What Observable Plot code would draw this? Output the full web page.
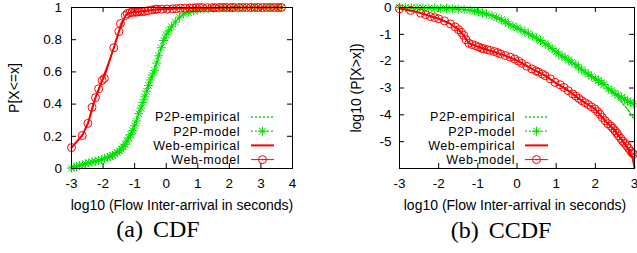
<!DOCTYPE html>
<html><head><meta charset="utf-8">
<script src="https://cdn.jsdelivr.net/npm/d3@7"></script>
<script src="https://cdn.jsdelivr.net/npm/@observablehq/plot@0.6"></script>
<style>
html,body{margin:0;padding:0;background:#fff;overflow:hidden}
#wrap{position:relative;width:637px;height:253px;background:#fff;overflow:hidden}
#wrap > svg{position:absolute;top:0;margin:0}
</style></head><body><div id="wrap"></div>
<script>
// ---------- tick labels / text ----------
const cdfXTicks = [-3, -2, -1, 0, 1, 2, 3, 4];
const cdfYTicks = [0, 0.2, 0.4, 0.6, 0.8, 1];
const ccdfXTicks = [-3, -2, -1, 0, 1, 2, 3];
const ccdfYTicks = [0, -1, -2, -3, -4, -5];
const xLabel = "log10 (Flow Inter-arrival in seconds)";
const cdfYLabel = "P[X<=x]";
const ccdfYLabel = "log10 (P[X>x])";
const seriesNames = ["P2P-empirical", "P2P-model", "Web-empirical", "Web-model"];
const captions = ["(a) CDF", "(b) CCDF"];

// ---------- (a) CDF ----------
const cdfP2PEmpX = [-3.0, -2.56, -2.14, -1.82, -1.5, -1.24, -1.03, -0.87, -0.71, -0.5, -0.37, -0.24, -0.08, 0.03, 0.29, 0.55, 0.87, 1.19, 1.5, 2.0, 3.0, 3.65];
const cdfP2PEmpY = [0.003, 0.03, 0.05, 0.07, 0.11, 0.17, 0.26, 0.34, 0.42, 0.55, 0.61, 0.70, 0.795, 0.84, 0.91, 0.96, 0.98, 0.99, 0.995, 1, 1, 1];
const cdfP2PModX = [-3.0, -2.92, -2.84, -2.75, -2.66, -2.56, -2.45, -2.35, -2.25, -2.14, -2.04, -1.95, -1.86, -1.78, -1.7, -1.62, -1.55, -1.48, -1.42, -1.36, -1.3, -1.24, -1.18, -1.12, -1.06, -1.0, -0.94, -0.87, -0.8, -0.74, -0.68, -0.62, -0.56, -0.5, -0.44, -0.37, -0.3, -0.24, -0.16, -0.08, 0.0, 0.08, 0.17, 0.29, 0.42, 0.55, 0.7, 0.87, 1.0, 1.19, 1.35, 1.5, 1.7, 1.9, 2.1, 2.3, 2.5, 2.7, 2.9, 3.1, 3.3, 3.5, 3.65];
const cdfP2PModY = [0.003, 0.008, 0.012, 0.018, 0.023, 0.03, 0.035, 0.04, 0.045, 0.05, 0.056, 0.062, 0.068, 0.074, 0.082, 0.09, 0.1, 0.11, 0.12, 0.135, 0.15, 0.17, 0.19, 0.21, 0.235, 0.265, 0.295, 0.34, 0.375, 0.41, 0.445, 0.48, 0.515, 0.55, 0.58, 0.61, 0.655, 0.70, 0.75, 0.795, 0.83, 0.855, 0.88, 0.91, 0.94, 0.96, 0.97, 0.98, 0.985, 0.99, 0.993, 0.995, 0.997, 0.998, 0.999, 1, 1, 1, 1, 1, 1, 1, 1];
const cdfWebEmpX = [-3.0, -2.66, -2.48, -2.24, -2.03, -1.85, -1.66, -1.5, -1.4, -1.29, -1.2, -1.0, -0.7, -0.3, 0.0, 0.5, 1.0, 1.5, 2.0, 3.0, 3.65];
const cdfWebEmpY = [0.13, 0.205, 0.28, 0.44, 0.547, 0.64, 0.75, 0.85, 0.9, 0.95, 0.964, 0.972, 0.978, 0.988, 0.99, 0.995, 0.997, 0.998, 1, 1, 1];
const cdfWebModX = [-3.0, -2.66, -2.48, -2.35, -2.24, -2.14, -2.03, -1.96, -1.66, -1.5, -1.45, -1.29, -1.23, -1.15, -1.08, -0.99, -0.92, -0.84, -0.76, -0.68, -0.58, -0.45, -0.35, -0.29, -0.15, 0.03, 0.2, 0.32, 0.45, 0.6, 0.75, 0.85, 0.95, 1.05, 1.15, 1.3, 1.45, 1.55, 1.68, 1.8, 1.92, 2.05, 2.15, 2.3, 2.42, 2.55, 2.68, 2.8, 2.92, 3.05, 3.18, 3.3, 3.42, 3.55, 3.65];
const cdfWebModY = [0.13, 0.205, 0.28, 0.38, 0.44, 0.495, 0.547, 0.56, 0.75, 0.85, 0.90, 0.95, 0.962, 0.968, 0.97, 0.97, 0.972, 0.974, 0.975, 0.976, 0.98, 0.985, 0.988, 0.99, 0.99, 0.99, 0.992, 0.993, 0.995, 0.996, 0.997, 0.997, 0.998, 0.998, 0.998, 0.999, 0.999, 0.999, 1, 1, 1, 1, 1, 1, 1, 1, 1, 1, 1, 1, 1, 1, 1, 1, 1];

// ---------- (b) CCDF ----------
const ccdfP2PEmpX = [-3.0, -2.0, -1.5, -1.2, -0.98, -0.64, -0.22, 0.29, 0.72, 1.06, 1.4, 1.74, 2.08, 2.33, 2.55, 2.72, 2.85, 2.93, 3.0];
const ccdfP2PEmpY = [0, -0.035, -0.06, -0.1, -0.17, -0.3, -0.61, -0.98, -1.35, -1.73, -2.04, -2.41, -2.72, -3.03, -3.3, -3.62, -3.85, -4.02, -4.2];
const ccdfP2PModX = [-3.0, -2.85, -2.7, -2.55, -2.4, -2.25, -2.1, -1.95, -1.8, -1.65, -1.5, -1.35, -1.2, -1.08, -0.98, -0.88, -0.78, -0.64, -0.52, -0.4, -0.3, -0.22, -0.1, 0.0, 0.1, 0.2, 0.29, 0.4, 0.5, 0.6, 0.72, 0.8, 0.9, 1.0, 1.06, 1.15, 1.23, 1.32, 1.4, 1.5, 1.57, 1.65, 1.74, 1.82, 1.9, 2.0, 2.08, 2.15, 2.22, 2.33, 2.42, 2.5, 2.58, 2.67, 2.75, 2.82, 2.9, 2.97];
const ccdfP2PModY = [0, -0.005, -0.01, -0.015, -0.02, -0.025, -0.03, -0.035, -0.04, -0.05, -0.06, -0.08, -0.1, -0.13, -0.17, -0.2, -0.24, -0.3, -0.37, -0.45, -0.53, -0.61, -0.69, -0.76, -0.83, -0.91, -0.98, -1.06, -1.14, -1.23, -1.35, -1.43, -1.53, -1.65, -1.73, -1.81, -1.88, -1.96, -2.04, -2.13, -2.22, -2.32, -2.41, -2.49, -2.57, -2.66, -2.72, -2.8, -2.87, -3.03, -3.1, -3.2, -3.27, -3.35, -3.42, -3.48, -3.54, -3.59];
const ccdfWebEmpX = [-3.0, -2.5, -2.0, -1.7, -1.49, -1.36, -1.23, -1.06, -0.85, -0.42, 0.04, 0.38, 0.72, 0.97, 1.31, 1.65, 1.99, 2.25, 2.5, 2.7, 2.85, 2.95, 3.0];
const ccdfWebEmpY = [-0.03, -0.19, -0.42, -0.61, -0.83, -1.04, -1.33, -1.42, -1.54, -1.73, -2.0, -2.29, -2.54, -2.79, -3.1, -3.47, -3.78, -4.22, -4.59, -4.98, -5.3, -5.6, -5.96];
const ccdfWebModX = [-3.0, -2.72, -2.46, -2.33, -2.21, -2.1, -2.0, -1.85, -1.7, -1.58, -1.49, -1.42, -1.36, -1.3, -1.23, -1.15, -1.06, -0.98, -0.9, -0.85, -0.76, -0.68, -0.58, -0.5, -0.42, -0.3, -0.17, -0.06, 0.04, 0.12, 0.25, 0.38, 0.48, 0.55, 0.65, 0.72, 0.85, 0.97, 1.1, 1.2, 1.31, 1.42, 1.5, 1.58, 1.65, 1.74, 1.82, 1.9, 1.99, 2.06, 2.12, 2.18, 2.25, 2.32, 2.4, 2.45, 2.5, 2.55, 2.59, 2.65, 2.7, 2.75, 2.8, 2.85, 2.9, 2.94, 2.97];
const ccdfWebModY = [-0.05, -0.11, -0.21, -0.27, -0.34, -0.38, -0.42, -0.5, -0.61, -0.72, -0.83, -0.93, -1.04, -1.2, -1.33, -1.38, -1.42, -1.47, -1.52, -1.54, -1.57, -1.6, -1.64, -1.68, -1.73, -1.79, -1.85, -1.92, -2.0, -2.08, -2.19, -2.29, -2.36, -2.41, -2.48, -2.54, -2.66, -2.79, -2.88, -2.98, -3.1, -3.22, -3.3, -3.39, -3.47, -3.55, -3.62, -3.7, -3.78, -3.88, -3.98, -4.1, -4.22, -4.33, -4.42, -4.5, -4.59, -4.68, -4.78, -4.88, -4.98, -5.05, -5.15, -5.25, -5.35, -5.42, -5.46];

// ---------- styling ----------
const GREEN = "#00e000", RED = "#ff0000";
const FONT = "'Liberation Sans', Arial, Helvetica, sans-serif";
const SERIF = "'Liberation Serif', 'Times New Roman', serif";
const star = {draw(ctx, size) {
  const r = Math.sqrt(size / Math.PI), d = r * 0.75;
  ctx.moveTo(-r, 0); ctx.lineTo(r, 0); ctx.moveTo(0, -r); ctx.lineTo(0, r);
  ctx.moveTo(-d, -d); ctx.lineTo(d, d); ctx.moveTo(-d, d); ctx.lineTo(d, -d);
}};
const pts = (xs, ys) => xs.map((x, i) => ({x, y: ys[i]}));

function panel(o) {
  const H = 215, mt = 7, mb = 47, tk = 5;
  const fw = o.width - o.marginLeft - o.marginRight, fh = H - mt - mb;
  const p2pEmp = pts(o.p2pEmp[0], o.p2pEmp[1]), p2pMod = pts(o.p2pMod[0], o.p2pMod[1]);
  const webEmp = pts(o.webEmp[0], o.webEmp[1]), webMod = pts(o.webMod[0], o.webMod[1]);
  return Plot.plot({
    width: o.width, height: H, marginLeft: o.marginLeft, marginRight: o.marginRight, marginTop: mt, marginBottom: mb,
    style: {fontFamily: FONT, fontSize: "13.5px", color: "#000", background: "transparent", overflow: "visible"},
    x: {domain: o.xDomain, axis: null},
    y: {domain: o.yDomain, axis: null},
    marks: [
      Plot.ruleX(o.xTicks, {x: d => d, insetTop: fh - tk, stroke: "#000"}),
      Plot.ruleX(o.xTicks, {x: d => d, insetBottom: fh - tk, stroke: "#000"}),
      Plot.ruleY(o.yTicks, {y: d => d, insetRight: fw - tk, stroke: "#000"}),
      Plot.ruleY(o.yTicks, {y: d => d, insetLeft: fw - tk, stroke: "#000"}),
      Plot.axisX(o.xTicks, {tickSize: 0, tickPadding: 10, tickFormat: d => String(d), label: null, fontSize: 13.5}),
      Plot.axisY(o.yTicks, {tickSize: 0, tickPadding: o.yPad, tickFormat: d => String(d), label: null, fontSize: 13.5}),
      Plot.text([xLabel], {text: d => d, frameAnchor: "bottom", lineAnchor: "middle", textAnchor: "middle", dy: 37, dx: o.xLabelDx, fontSize: 14}),
      Plot.text([o.yLabel], {text: d => d, frameAnchor: "left", lineAnchor: "middle", textAnchor: "middle", rotate: -90, dx: o.yLabelDx, fontSize: 14}),
      Plot.line(p2pEmp, {x: "x", y: "y", stroke: GREEN, strokeWidth: 1.5, strokeDasharray: "2,2"}),
      Plot.line(p2pMod, {x: "x", y: "y", stroke: GREEN, strokeWidth: 1.2, strokeDasharray: "2,2"}),
      Plot.dot(p2pMod, {x: "x", y: "y", symbol: star, r: 4.5, stroke: GREEN, fill: "none", strokeWidth: 1}),
      Plot.line(webEmp, {x: "x", y: "y", stroke: RED, strokeWidth: 2}),
      Plot.line(webMod, {x: "x", y: "y", stroke: RED, strokeWidth: 1}),
      Plot.dot(webMod, {x: "x", y: "y", r: 4, stroke: RED, fill: "none", strokeWidth: 1}),
      Plot.frame({stroke: "#000", strokeWidth: 1})
    ]
  });
}

const wrap = document.getElementById("wrap");
const cdf = panel({
  width: 318, marginLeft: 71, marginRight: 26, xDomain: [-3, 4], yDomain: [0, 1],
  xTicks: cdfXTicks, yTicks: cdfYTicks, yLabel: cdfYLabel, yLabelDx: -57, xLabelDx: 0, yPad: 9.5,
  p2pEmp: [cdfP2PEmpX, cdfP2PEmpY], p2pMod: [cdfP2PModX, cdfP2PModY],
  webEmp: [cdfWebEmpX, cdfWebEmpY], webMod: [cdfWebModX, cdfWebModY]
});
cdf.style.left = "0px";
wrap.appendChild(cdf);
const ccdf = panel({
  width: 319, marginLeft: 81, marginRight: 3, xDomain: [-3, 3], yDomain: [-6, 0],
  xTicks: ccdfXTicks, yTicks: ccdfYTicks, yLabel: ccdfYLabel, yLabelDx: -43, xLabelDx: -2, yPad: 8,
  p2pEmp: [ccdfP2PEmpX, ccdfP2PEmpY], p2pMod: [ccdfP2PModX, ccdfP2PModY],
  webEmp: [ccdfWebEmpX, ccdfWebEmpY], webMod: [ccdfWebModX, ccdfWebModY]
});
ccdf.style.left = "318px";
wrap.appendChild(ccdf);

// ---------- legends and captions (overlay) ----------
const ov = d3.select(wrap).append("svg").attr("width", 637).attr("height", 253)
  .style("position", "absolute").style("left", "0px").style("top", "0px").style("pointer-events", "none");
const styles = [
  {color: GREEN, dash: "2,2", w: 1.5, marker: null},
  {color: GREEN, dash: "2,2", w: 1.2, marker: "star"},
  {color: RED, dash: null, w: 2, marker: null},
  {color: RED, dash: null, w: 1, marker: "circle"}
];
function legend(textEnd, s0, s1, y0) {
  seriesNames.forEach((name, i) => {
    const y = y0 + i * 14.2, st = styles[i];
    ov.append("text").attr("x", textEnd).attr("y", y).attr("dy", "0.35em").attr("text-anchor", "end")
      .attr("font-family", FONT).attr("font-size", 12.5).attr("letter-spacing", "0.55px")
      .attr("fill", "#000").text(name);
    ov.append("line").attr("x1", s0).attr("x2", s1).attr("y1", y).attr("y2", y)
      .attr("stroke", st.color).attr("stroke-width", st.w).attr("stroke-dasharray", st.dash);
    const cx = (s0 + s1) / 2;
    if (st.marker === "circle") {
      ov.append("circle").attr("cx", cx).attr("cy", y).attr("r", 4).attr("fill", "none").attr("stroke", st.color);
    } else if (st.marker === "star") {
      const p = d3.path(); star.draw(p, Math.PI * 4.5 * 4.5);
      ov.append("path").attr("d", p.toString()).attr("transform", `translate(${cx},${y})`)
        .attr("fill", "none").attr("stroke", st.color);
    }
  });
}
legend(240, 251, 274, 117);
legend(515, 525, 548, 117);

[[158, 237, captions[0]], [501, 238, captions[1]]].forEach(([x, y, t]) => {
  ov.append("text").attr("x", x).attr("y", y).attr("text-anchor", "middle")
    .attr("font-family", SERIF).attr("font-size", 24).attr("word-spacing", "4px").attr("fill", "#000").text(t);
});
</script></body></html>
